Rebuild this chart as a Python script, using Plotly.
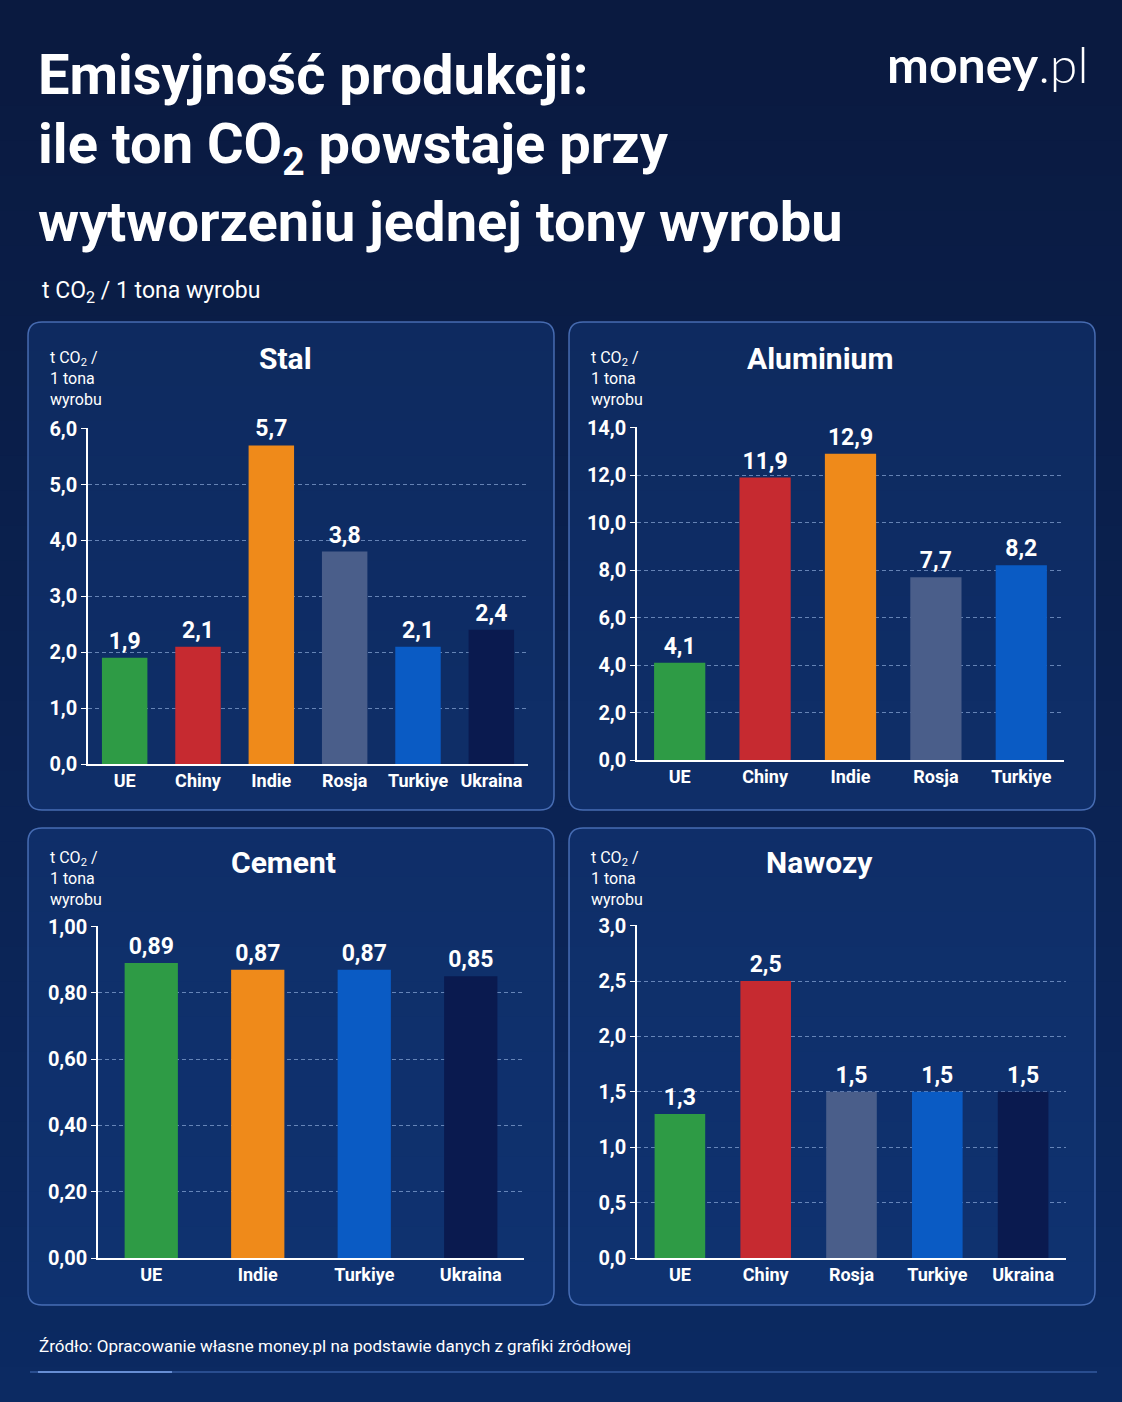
import plotly.graph_objects as go

# ---------------- DATA ----------------
stal_cat = ["UE", "Chiny", "Indie", "Rosja", "Turkiye", "Ukraina"]
stal_val = [1.9, 2.1, 5.7, 3.8, 2.1, 2.4]

alu_cat = ["UE", "Chiny", "Indie", "Rosja", "Turkiye"]
alu_val = [4.1, 11.9, 12.9, 7.7, 8.2]

cement_cat = ["UE", "Indie", "Turkiye", "Ukraina"]
cement_val = [0.89, 0.87, 0.87, 0.85]

nawozy_cat = ["UE", "Chiny", "Rosja", "Turkiye", "Ukraina"]
nawozy_val = [1.3, 2.5, 1.5, 1.5, 1.5]

country_colors = {
    "UE": "#2E9B45",
    "Chiny": "#C62A30",
    "Indie": "#EF8A1A",
    "Rosja": "#4A5E8A",
    "Turkiye": "#0A5BC4",
    "Ukraina": "#0A1A4F",
}

W, H = 1122, 1402
FONT = "Roboto, Noto Sans, sans-serif"


def px(x):
    return x / W


def py(y):
    return 1 - y / H


fig = go.Figure()

panels = [
    dict(title="Stal", cats=stal_cat, vals=stal_val, ax=1, x=(88, 528), y=(428, 764),
         rng=6, dtick=1, fmt=".1f", dec=1, bw=0.62, box=(28, 322, 554, 810), tx=285, ty=358, uy=24),
    dict(title="Aluminium", cats=alu_cat, vals=alu_val, ax=2, x=(637, 1064), y=(427, 760),
         rng=14, dtick=2, fmt=".1f", dec=1, bw=0.6, box=(569, 322, 1095, 810), tx=820, ty=358, uy=24),
    dict(title="Cement", cats=cement_cat, vals=cement_val, ax=3, x=(98, 524), y=(926, 1258),
         rng=1, dtick=0.2, fmt=".2f", dec=2, bw=0.5, box=(28, 828, 554, 1305), tx=283, ty=862, uy=18),
    dict(title="Nawozy", cats=nawozy_cat, vals=nawozy_val, ax=4, x=(637, 1066), y=(925, 1258),
         rng=3, dtick=0.5, fmt=".1f", dec=1, bw=0.59, box=(569, 828, 1095, 1305), tx=819, ty=862, uy=18),
]

shapes = []
annotations = []

# background gradient bands
top = (10, 26, 64)
bot = (12, 42, 98)
n = 40
for i in range(n):
    t = i / (n - 1)
    c = tuple(int(top[k] + (bot[k] - top[k]) * t) for k in range(3))
    shapes.append(dict(type="rect", xref="paper", yref="paper",
                       x0=0, x1=1, y0=max(0, 1 - (i + 1) / n - 0.001), y1=1 - i / n,
                       fillcolor=f"rgb{c}", line=dict(width=0), layer="below"))


def rounded(x0, y0, x1, y1, r):
    rx, ry = r / W, r / H
    X0, X1 = px(x0), px(x1)
    Y0, Y1 = py(y1), py(y0)
    return (f"M {X0+rx},{Y1} L {X1-rx},{Y1} Q {X1},{Y1} {X1},{Y1-ry} "
            f"L {X1},{Y0+ry} Q {X1},{Y0} {X1-rx},{Y0} L {X0+rx},{Y0} "
            f"Q {X0},{Y0} {X0},{Y0+ry} L {X0},{Y1-ry} Q {X0},{Y1} {X0+rx},{Y1} Z")


for p in panels:
    i = p["ax"]
    xa = "x" if i == 1 else f"x{i}"
    ya = "y" if i == 1 else f"y{i}"
    labels = [f"{v:.{p['dec']}f}".replace(".", ",") for v in p["vals"]]
    fig.add_trace(go.Bar(
        x=p["cats"], y=p["vals"], xaxis=xa, yaxis=ya,
        marker=dict(color=[country_colors[c] for c in p["cats"]], line=dict(width=0)),
        width=p["bw"],
        text=labels, textposition="outside", cliponaxis=False,
        textfont=dict(family=FONT, size=23, color="white", weight=700),
        showlegend=False, hoverinfo="skip",
    ))
    bx0, by0, bx1, by1 = p["box"]
    shapes.append(dict(type="path", xref="paper", yref="paper",
                       path=rounded(bx0, by0, bx1, by1, 14),
                       fillcolor="rgba(25,70,150,0.32)",
                       line=dict(color="rgba(85,125,200,0.8)", width=1.5), layer="below"))
    annotations.append(dict(text=p["title"], x=px(p["tx"]), y=py(p["ty"]), xref="paper", yref="paper",
                            showarrow=False, xanchor="center", yanchor="middle",
                            font=dict(family=FONT, size=30, color="white", weight=700)))
    annotations.append(dict(text="t CO<sub>2</sub> /<br>1 tona<br>wyrobu",
                            x=px(bx0 + 20), y=py(by0 + p["uy"]), xref="paper", yref="paper",
                            showarrow=False, xanchor="left", yanchor="top", align="left",
                            font=dict(family=FONT, size=16, color="white")))
    axis_kw = dict(domain=[px(p["x"][0]), px(p["x"][1])], anchor=ya, automargin=False,
                   showline=True, linecolor="white", linewidth=1.5,
                   showgrid=False, ticks="", tickangle=0,
                   tickfont=dict(family=FONT, size=18, color="white", weight=700),
                   fixedrange=True)
    yaxis_kw = dict(domain=[py(p["y"][1]), py(p["y"][0])], anchor=xa, automargin=False,
                    range=[0, p["rng"] * 1.002], dtick=p["dtick"], tick0=0, tickformat=p["fmt"],
                    showline=True, linecolor="white", linewidth=1.5,
                    ticks="outside", ticklen=5, tickcolor="white",
                    showgrid=True, gridcolor="rgba(160,190,235,0.6)", griddash="4px,3px", gridwidth=1,
                    zeroline=False,
                    tickfont=dict(family=FONT, size=20, color="white", weight=700),
                    fixedrange=True)
    fig.update_layout(**{("xaxis" if i == 1 else f"xaxis{i}"): axis_kw,
                         ("yaxis" if i == 1 else f"yaxis{i}"): yaxis_kw})

# main title
title_lines = ["Emisyjność produkcji:", "ile ton CO<sub>2</sub> powstaje przy", "wytworzeniu jednej tony wyrobu"]
title_y = [75, 148, 222]
for t, yy in zip(title_lines, title_y):
    annotations.append(dict(text=t, x=px(36), y=py(yy), xref="paper", yref="paper",
                            showarrow=False, xanchor="left", yanchor="middle",
                            font=dict(family=FONT, size=56, color="white", weight=700)))

# logo
annotations.append(dict(text="<b>money</b><span style='font-weight:300'>.pl</span>",
                        x=px(1090), y=py(64), xref="paper", yref="paper",
                        showarrow=False, xanchor="right", yanchor="middle",
                        font=dict(family="Lato, Inter, sans-serif", size=50, color="white")))

# subtitle
annotations.append(dict(text="t CO<sub>2</sub> / 1 tona wyrobu", x=px(40), y=py(292), xref="paper", yref="paper",
                        showarrow=False, xanchor="left", yanchor="middle",
                        font=dict(family=FONT, size=23, color="white")))

# footer
annotations.append(dict(text="Źródło: Opracowanie własne money.pl na podstawie danych z grafiki źródłowej",
                        x=px(37), y=py(1346), xref="paper", yref="paper",
                        showarrow=False, xanchor="left", yanchor="middle",
                        font=dict(family=FONT, size=17, color="white")))
shapes.append(dict(type="line", xref="paper", yref="paper", x0=px(30), x1=px(1097), y0=py(1372), y1=py(1372),
                   line=dict(color="rgba(70,110,185,0.7)", width=1.5)))
shapes.append(dict(type="line", xref="paper", yref="paper", x0=px(38), x1=px(172), y0=py(1372), y1=py(1372),
                   line=dict(color="rgba(110,150,220,0.9)", width=2)))

fig.update_layout(
    width=W, height=H, margin=dict(l=0, r=0, t=0, b=0, pad=0, autoexpand=False), autosize=False,
    paper_bgcolor="#0b2256", plot_bgcolor="rgba(0,0,0,0)",
    separators=", ", bargap=0.4, showlegend=False,
    shapes=shapes, annotations=annotations,
    font=dict(family=FONT, color="white"),
)

fig.write_html(
    "out.html",
    config={"displayModeBar": False, "responsive": False},
    default_width="1122px", default_height="1402px",
    post_script="document.body.style.margin='0';document.body.style.padding='0';"
                "document.body.style.overflow='hidden';document.documentElement.style.overflow='hidden';",
)
